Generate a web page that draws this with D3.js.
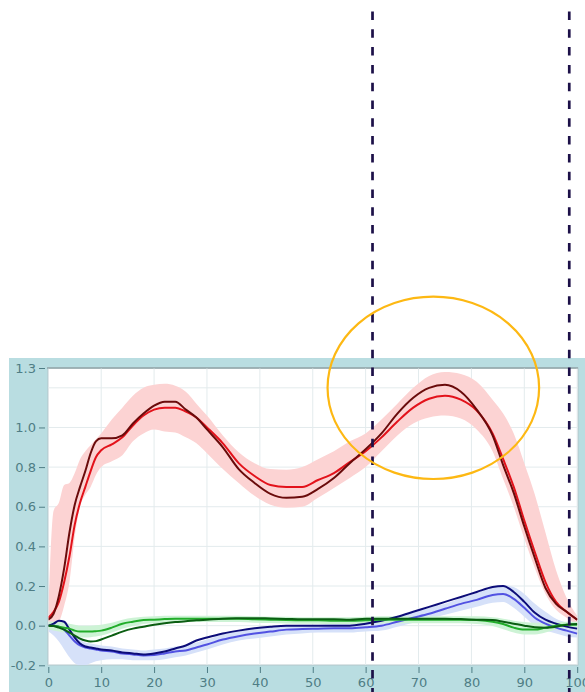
<!DOCTYPE html>
<html>
<head>
<meta charset="utf-8">
<script src="https://cdn.jsdelivr.net/npm/d3@7"></script>
<style>
  html, body { margin: 0; padding: 0; background: #fff; }
  svg { display: block; }
  .tick text { font-family: "DejaVu Sans", Verdana, sans-serif; font-size: 13px; fill: #4f7d85; }
  .tick line { stroke: #4f7d85; }
</style>
</head>
<body>
<svg width="585" height="692"></svg>
<script>
// % of cycle where every series is sampled
const pct = [0,1,2,3,4,5,6,7,8,9,10,12,14,16,18,20,22,24,26,28,30,33,36,39,42,45,48,51,54,57,60,63,66,69,72,75,78,81,84,86,88,90,92,94,96,98,100];

// vertical force: normal mean + band, subject
const vertMean = [0.04,0.07,0.12,0.22,0.35,0.51,0.62,0.70,0.78,0.85,0.885,0.915,0.95,1.01,1.06,1.09,1.10,1.10,1.08,1.05,1.00,0.92,0.82,0.755,0.71,0.70,0.70,0.735,0.77,0.825,0.88,0.95,1.03,1.10,1.145,1.16,1.14,1.085,0.97,0.84,0.70,0.53,0.37,0.22,0.12,0.07,0.03];
const vertHi   = [0.05,0.58,0.62,0.71,0.72,0.77,0.84,0.88,0.91,0.94,0.97,1.04,1.10,1.16,1.20,1.215,1.22,1.21,1.18,1.12,1.06,0.96,0.875,0.82,0.79,0.787,0.80,0.84,0.88,0.93,0.97,1.04,1.12,1.20,1.26,1.28,1.27,1.23,1.14,1.07,0.97,0.82,0.66,0.47,0.28,0.14,0.05];
const vertLo   = [0.0,0.0,0.02,0.10,0.22,0.45,0.60,0.66,0.70,0.76,0.80,0.83,0.86,0.93,0.97,0.99,0.98,0.975,0.95,0.92,0.87,0.79,0.72,0.655,0.61,0.595,0.60,0.645,0.695,0.745,0.80,0.88,0.96,1.02,1.05,1.06,1.045,0.99,0.88,0.74,0.60,0.44,0.29,0.16,0.08,0.04,0.0];
const vertSubj = [0.03,0.06,0.15,0.29,0.47,0.61,0.70,0.78,0.87,0.93,0.945,0.945,0.96,1.02,1.07,1.11,1.13,1.13,1.09,1.05,0.99,0.90,0.79,0.72,0.665,0.645,0.65,0.69,0.745,0.82,0.89,0.97,1.07,1.15,1.20,1.215,1.18,1.09,0.96,0.81,0.67,0.50,0.34,0.19,0.11,0.07,0.03];

// fore-aft force
const apMean = [0.0,0.0,-0.005,-0.02,-0.05,-0.08,-0.10,-0.11,-0.115,-0.12,-0.125,-0.13,-0.14,-0.145,-0.15,-0.148,-0.14,-0.13,-0.125,-0.11,-0.095,-0.07,-0.053,-0.04,-0.03,-0.02,-0.017,-0.015,-0.013,-0.013,-0.008,0.0,0.02,0.04,0.06,0.085,0.11,0.13,0.155,0.16,0.135,0.09,0.04,0.01,-0.01,-0.025,-0.04];
const apHi   = [0.02,0.02,0.02,0.01,-0.01,-0.04,-0.07,-0.085,-0.09,-0.095,-0.1,-0.105,-0.115,-0.12,-0.125,-0.12,-0.115,-0.105,-0.1,-0.085,-0.07,-0.045,-0.03,-0.015,-0.005,0.0,0.005,0.005,0.008,0.01,0.015,0.025,0.045,0.065,0.09,0.11,0.14,0.165,0.195,0.205,0.195,0.16,0.11,0.07,0.035,0.015,0.0];
const apLo   = [-0.03,-0.05,-0.08,-0.12,-0.16,-0.19,-0.2,-0.2,-0.19,-0.18,-0.175,-0.17,-0.17,-0.175,-0.175,-0.175,-0.17,-0.16,-0.15,-0.135,-0.12,-0.095,-0.075,-0.065,-0.055,-0.045,-0.04,-0.035,-0.035,-0.035,-0.03,-0.025,-0.005,0.015,0.035,0.055,0.075,0.095,0.115,0.12,0.09,0.045,0.0,-0.025,-0.04,-0.055,-0.06];
const apSubj = [0.0,0.01,0.025,0.02,-0.02,-0.06,-0.09,-0.105,-0.11,-0.115,-0.12,-0.125,-0.135,-0.14,-0.145,-0.14,-0.13,-0.115,-0.10,-0.075,-0.06,-0.04,-0.025,-0.013,-0.005,0.0,0.0,0.0,0.0,0.0,0.01,0.025,0.045,0.07,0.095,0.12,0.145,0.17,0.195,0.20,0.17,0.12,0.065,0.03,0.01,-0.005,-0.015];

// medio-lateral force
const mlMean = [0.0,0.0,-0.005,-0.01,-0.015,-0.025,-0.03,-0.03,-0.03,-0.028,-0.025,-0.01,0.01,0.02,0.028,0.03,0.033,0.035,0.035,0.035,0.035,0.035,0.035,0.032,0.03,0.028,0.027,0.027,0.025,0.025,0.027,0.03,0.03,0.03,0.03,0.03,0.03,0.028,0.02,0.008,-0.01,-0.02,-0.02,-0.01,0.0,0.005,0.005];
const mlHi   = [0.02,0.02,0.02,0.015,0.01,0.005,0.0,0.0,0.0,0.002,0.005,0.015,0.03,0.04,0.045,0.048,0.05,0.05,0.05,0.05,0.05,0.05,0.05,0.048,0.045,0.045,0.043,0.043,0.042,0.042,0.045,0.047,0.048,0.048,0.048,0.048,0.048,0.047,0.042,0.035,0.025,0.018,0.015,0.015,0.018,0.02,0.02];
const mlLo   = [-0.02,-0.025,-0.03,-0.035,-0.045,-0.055,-0.06,-0.06,-0.058,-0.055,-0.05,-0.035,-0.015,-0.002,0.008,0.012,0.015,0.018,0.018,0.018,0.018,0.018,0.018,0.015,0.013,0.011,0.01,0.01,0.008,0.008,0.01,0.012,0.012,0.012,0.012,0.012,0.012,0.008,-0.002,-0.018,-0.035,-0.045,-0.045,-0.035,-0.02,-0.012,-0.01];
const mlSubj = [0.0,-0.002,-0.01,-0.02,-0.035,-0.05,-0.065,-0.075,-0.08,-0.078,-0.07,-0.05,-0.03,-0.015,-0.005,0.005,0.012,0.018,0.022,0.027,0.03,0.035,0.037,0.038,0.036,0.034,0.032,0.032,0.032,0.03,0.035,0.035,0.035,0.035,0.035,0.035,0.033,0.03,0.028,0.02,0.01,0.0,-0.008,-0.01,-0.005,0.005,0.008];

// event markers (% of cycle) and highlighted region
const eventPct = [61.3, 98.5];
const highlight = { cx: 72.8, cy: 1.2, rx: 20, ry: 0.46 };

const xTicks = d3.range(0, 101, 10);
const yTicks = [-0.2, 0.0, 0.2, 0.4, 0.6, 0.8, 1.0, 1.3];
const yGrid = [-0.2, 0.0, 0.2, 0.4, 0.6, 0.8, 1.0, 1.2];

const svg = d3.select('svg');

const x = d3.scaleLinear().domain([0, 100]).range([48.3, 577.2]);
const y = d3.scaleLinear().domain([-0.2, 1.3]).range([665.3, 368]);

// teal frame and white plot area
svg.append('rect')
    .attr('x', 9).attr('y', 358).attr('width', 585 - 9).attr('height', 692 - 358)
    .attr('fill', '#b9dde1');
svg.append('rect')
    .attr('x', 48).attr('y', 368).attr('width', 530).attr('height', 297)
    .attr('fill', '#fff').attr('stroke', '#b4c6c9').attr('stroke-width', 1);
svg.append('line')
    .attr('x1', 47).attr('x2', 578).attr('y1', 368).attr('y2', 368)
    .attr('stroke', '#90a4a8').attr('stroke-width', 1.5);

svg.append('clipPath').attr('id', 'plot')
  .append('rect').attr('x', 48.5).attr('y', 368.5).attr('width', 529).attr('height', 296.5);

// grid
const grid = svg.append('g').attr('clip-path', 'url(#plot)')
    .attr('stroke', '#e3ebed').attr('stroke-width', 1);
grid.selectAll('.gx').data(xTicks).join('line')
    .attr('x1', d => x(d)).attr('x2', d => x(d))
    .attr('y1', 368).attr('y2', 665);
grid.selectAll('.gy').data(yGrid).join('line')
    .attr('x1', 48).attr('x2', 578)
    .attr('y1', d => y(d)).attr('y2', d => y(d));

// axes
svg.append('g')
    .attr('transform', 'translate(45,0)')
    .call(d3.axisLeft(y).tickValues(yTicks).tickSize(6).tickPadding(3)
      .tickFormat(d => d.toFixed(1)))
    .call(g => g.select('.domain').remove());

svg.append('g')
    .attr('transform', 'translate(0,667)')
    .call(d3.axisBottom(x).tickValues(xTicks).tickSize(6).tickPadding(5))
    .call(g => g.select('.domain').remove());

// bands and curves
const chart = svg.append('g').attr('clip-path', 'url(#plot)');

const area = (lo, hi) => d3.area()
    .x((d, i) => x(pct[i]))
    .y0((d, i) => y(lo[i]))
    .y1((d, i) => y(hi[i]))
    .curve(d3.curveMonotoneX)(pct);

const line = vals => d3.line()
    .x((d, i) => x(pct[i]))
    .y(d => y(d))
    .curve(d3.curveMonotoneX)(vals);

const bands = [
  { lo: vertLo, hi: vertHi, color: '#fcd3d3' },
  { lo: apLo,   hi: apHi,   color: '#d6e1f9' },
  { lo: mlLo,   hi: mlHi,   color: '#cdf3d5' }
];
chart.selectAll('path.band').data(bands).join('path')
    .attr('class', 'band')
    .attr('d', d => area(d.lo, d.hi))
    .attr('fill', d => d.color);

const curves = [
  { vals: vertMean, color: '#e3121b' },
  { vals: vertSubj, color: '#6a0b0b' },
  { vals: apMean,   color: '#5252e2' },
  { vals: apSubj,   color: '#0c0c78' },
  { vals: mlMean,   color: '#22ad2a' },
  { vals: mlSubj,   color: '#0b5e12' }
];
chart.selectAll('path.curve').data(curves).join('path')
    .attr('class', 'curve')
    .attr('d', d => line(d.vals))
    .attr('fill', 'none')
    .attr('stroke', d => d.color)
    .attr('stroke-width', 2)
    .attr('stroke-linejoin', 'round');

// event markers
svg.selectAll('line.event').data(eventPct).join('line')
    .attr('class', 'event')
    .attr('x1', d => x(d)).attr('x2', d => x(d))
    .attr('y1', 11.5).attr('y2', 692)
    .attr('stroke', '#1c1048')
    .attr('stroke-width', 2.7)
    .attr('stroke-dasharray', '8.5,9.3');

// highlight ellipse
svg.append('ellipse')
    .attr('cx', x(highlight.cx))
    .attr('cy', y(highlight.cy))
    .attr('rx', x(highlight.rx) - x(0))
    .attr('ry', y(0) - y(highlight.ry))
    .attr('fill', 'none')
    .attr('stroke', '#fdb813')
    .attr('stroke-width', 2.2);
</script>
</body>
</html>
